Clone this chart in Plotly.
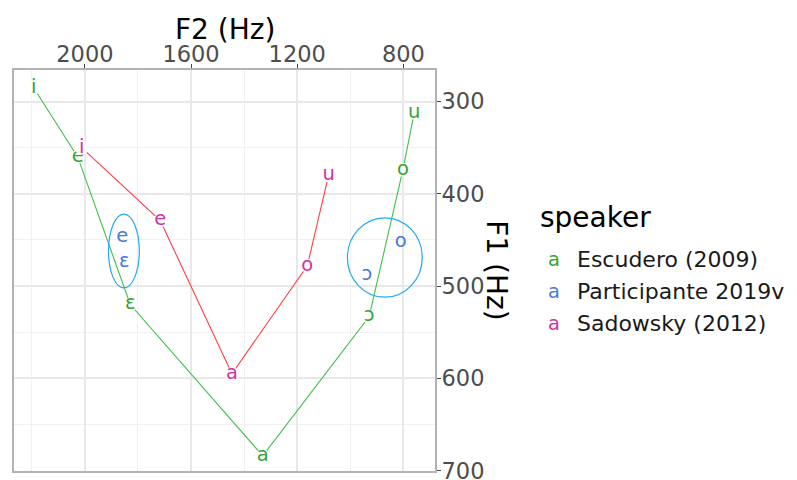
import plotly.graph_objects as go

# ---- data ----
esc_vowels = ["i", "e", "ɛ", "a", "ɔ", "o", "u"]
esc_f2 = [2193, 2027, 1829, 1330, 929, 802, 759]
esc_f1 = [285, 360, 520, 684, 533, 374, 312]

sad_vowels = ["i", "e", "a", "o", "u"]
sad_f2 = [2012, 1716, 1446, 1162, 1082]
sad_f1 = [350, 429, 595, 478, 380]

par_vowels = ["e", "ɛ", "ɔ", "o"]
par_f2 = [1859, 1852, 938, 810]
par_f1 = [447, 474, 488, 452]

speakers = ["Escudero (2009)", "Participante 2019v", "Sadowsky (2012)"]

# ellipses (centre and half-widths, in Hz)
ell_f2 = [1853, 870]
ell_f1 = [462, 469]
ell_hw = [58, 141]
ell_hh = [40, 43]

x_ticks = [2000, 1600, 1200, 800]
y_ticks = [300, 400, 500, 600, 700]

# ---- styles ----
FONT = "DejaVu Sans"
green_txt, green_line = "#36a336", "#3fbf4a"
blue_txt = "#4a78d8"
mag_txt, red_line = "#cc33a8", "#ff3b45"
ell_col = "#22aaee"
TXT = 19.5

fig = go.Figure()

# lines
fig.add_trace(go.Scatter(x=esc_f2, y=esc_f1, mode="lines",
                         line=dict(color=green_line, width=1.1), hoverinfo="skip"))
fig.add_trace(go.Scatter(x=sad_f2, y=sad_f1, mode="lines",
                         line=dict(color=red_line, width=1.1), hoverinfo="skip"))

# vowel labels (white marker under each label gives the small gap in the lines)
for f2, f1, lab, col in [(esc_f2, esc_f1, esc_vowels, green_txt),
                         (sad_f2, sad_f1, sad_vowels, mag_txt)]:
    fig.add_trace(go.Scatter(x=f2, y=f1, mode="markers+text", text=lab,
                             textposition="middle center",
                             marker=dict(color="rgba(255,255,255,0.9)", size=14),
                             textfont=dict(family=FONT, size=TXT, color=col)))
fig.add_trace(go.Scatter(x=par_f2, y=par_f1, mode="text", text=par_vowels,
                         textposition="middle center",
                         textfont=dict(family=FONT, size=TXT, color=blue_txt)))

# ellipses
for cx, cy, hw, hh in zip(ell_f2, ell_f1, ell_hw, ell_hh):
    fig.add_shape(type="circle", xref="x", yref="y",
                  x0=cx - hw, x1=cx + hw, y0=cy - hh, y1=cy + hh,
                  line=dict(color=ell_col, width=1.2), layer="above")

axis_common = dict(
    showline=True, mirror=True, linecolor="#b3b3b3", linewidth=2,
    ticks="outside", ticklen=4, tickwidth=1.3, tickcolor="#444444",
    tickfont=dict(family=FONT, size=22.5, color="#4d4d4d"),
    showgrid=True, gridcolor="#e8e8e8", gridwidth=1.6, zeroline=False,
)
fig.update_xaxes(side="top", range=[2267, 681], tickvals=x_ticks,
                 ticklabelstandoff=-7,
                 minor=dict(dtick=200, tick0=0, showgrid=True, gridcolor="#f1f1f1",
                            gridwidth=0.9, ticks=""),
                 **axis_common)
fig.update_yaxes(side="right", range=[700.4, 265.8], tickvals=y_ticks,
                 ticklabelstandoff=-4,
                 minor=dict(dtick=50, tick0=0, showgrid=True, gridcolor="#f1f1f1",
                            gridwidth=0.9, ticks=""),
                 **axis_common)

# page-pixel positions of the panel (page has an 8px body margin)
OFF = 8
L, R, T, B = 12, 435, 70, 473
W, H = 797, 480


def px(xp):
    return (xp - L) / (R - L)


def py(yp):
    return (B - yp) / (B - T)


ann = []
ann.append(dict(text="F2 (Hz)", x=0.5, y=py(29), xref="paper", yref="paper",
                showarrow=False, font=dict(family=FONT, size=28, color="black"),
                xanchor="center", yanchor="middle"))
ann.append(dict(text="F1 (Hz)", x=px(497), y=py(271), xref="paper", yref="paper",
                showarrow=False, textangle=90,
                font=dict(family=FONT, size=28, color="black"),
                xanchor="center", yanchor="middle"))
ann.append(dict(text="speaker", x=px(538), y=py(218), xref="paper", yref="paper",
                showarrow=False, font=dict(family=FONT, size=28, color="black"),
                xanchor="left", yanchor="middle"))
leg_cols = [green_txt, blue_txt, mag_txt]
leg_y = [260, 292.5, 325]
for name, col, yy in zip(speakers, leg_cols, leg_y):
    ann.append(dict(text="a", x=px(555), y=py(yy), xref="paper", yref="paper",
                    showarrow=False, font=dict(family=FONT, size=TXT, color=col),
                    xanchor="center", yanchor="middle"))
    ann.append(dict(text=name, x=px(576), y=py(yy), xref="paper", yref="paper",
                    showarrow=False, font=dict(family=FONT, size=22, color="#1a1a1a"),
                    xanchor="left", yanchor="middle"))

fig.update_layout(
    width=W, height=H,
    margin=dict(l=L - OFF, r=W - (R - OFF), t=T - OFF, b=H - (B - OFF)),
    plot_bgcolor="white", paper_bgcolor="white",
    showlegend=False, annotations=ann,
    font=dict(family=FONT),
)

fig.write_html("out.html")
